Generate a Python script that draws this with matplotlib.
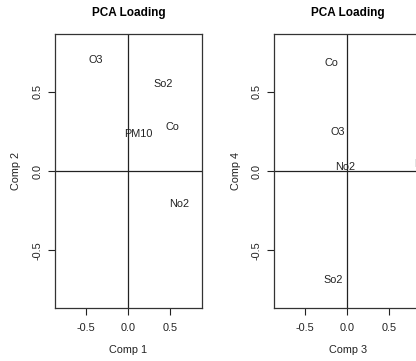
import matplotlib
matplotlib.use("Agg")
import matplotlib.pyplot as plt

plt.rcParams['font.family'] = ['Liberation Sans', 'DejaVu Sans']

# loadings
vars_12 = ["O3", "So2", "Co", "PM10", "No2"]
comp1 = [-0.38, 0.42, 0.53, 0.12, 0.61]
comp2 = [0.70, 0.55, 0.28, 0.23, -0.21]

vars_34 = ["Co", "O3", "No2", "So2", "PM10"]
comp3 = [-0.19, -0.12, -0.03, -0.165, 0.96]
comp4 = [0.68, 0.245, 0.025, -0.685, 0.045]

ticks = [-0.5, 0.0, 0.5]
tick_labels = ["-0.5", "0.0", "0.5"]

fig = plt.figure(figsize=(4.16, 3.61), dpi=100)
fig.patch.set_facecolor("white")

# right panel runs past the image edge, as in the original crop
ax1 = fig.add_axes([55 / 416, 53.3 / 361, 146.7 / 416, 273.7 / 361])
ax2 = fig.add_axes([274.3 / 416, 53.3 / 361, 146.7 / 416, 273.7 / 361])


def loading_plot(ax, xs, ys, names, xlab, ylab):
    ax.set_xlim(-0.87, 0.877)
    ax.set_ylim(-0.86, 0.862)
    ax.axhline(0, color="#222222", lw=0.9, zorder=1)
    ax.axvline(0, color="#222222", lw=0.9, zorder=1)
    for x, y, n in zip(xs, ys, names):
        ax.text(x, y, n, ha="center", va="center", fontsize=7.8,
                color="#222222", clip_on=True, zorder=2)
    ax.set_xticks(ticks)
    ax.set_xticklabels(tick_labels)
    ax.set_yticks(ticks)
    ax.set_yticklabels(tick_labels, rotation=90, va="center")
    ax.tick_params(direction="out", length=5, width=0.8, labelsize=7.8,
                   colors="#222222")
    ax.tick_params(axis="x", pad=6)
    ax.tick_params(axis="y", pad=4)
    for s in ax.spines.values():
        s.set_color("#333333")
        s.set_linewidth(0.9)
    ax.set_xlabel(xlab, fontsize=7.8, color="#222222", labelpad=9)
    ax.set_ylabel(ylab, fontsize=7.8, color="#222222", labelpad=8)
    ax.set_title("PCA Loading", fontsize=8.5, fontweight="bold", pad=13)


loading_plot(ax1, comp1, comp2, vars_12, "Comp 1", "Comp 2")
loading_plot(ax2, comp3, comp4, vars_34, "Comp 3", "Comp 4")

fig.savefig("out.png", dpi=100)
